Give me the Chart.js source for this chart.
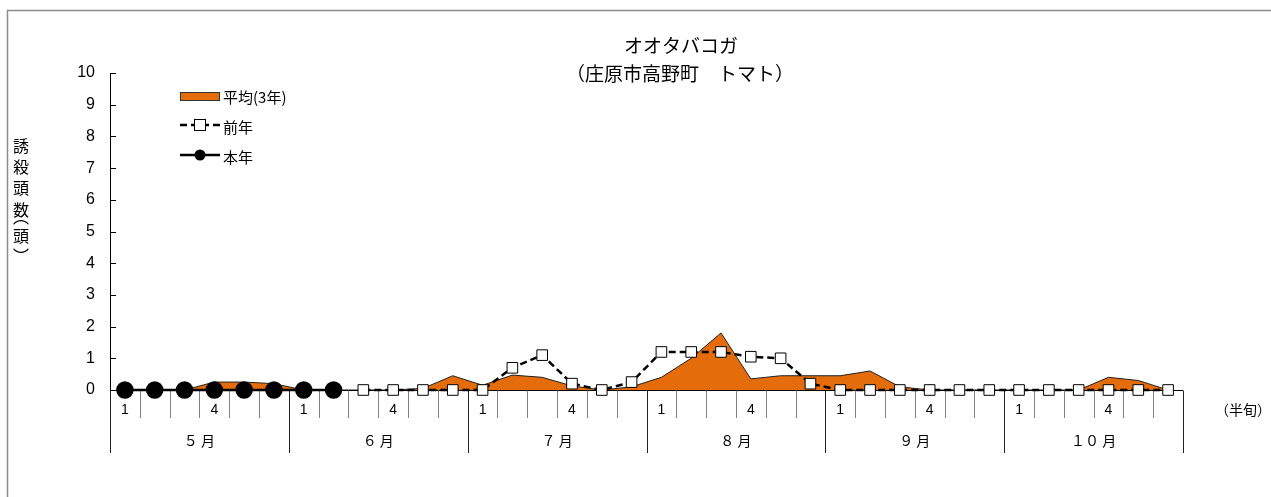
<!DOCTYPE html>
<html lang="ja">
<head>
<meta charset="utf-8">
<title>オオタバコガ</title>
<script src="https://cdn.jsdelivr.net/npm/chart.js@4/dist/chart.umd.min.js"></script>
<style>
  html, body { margin: 0; padding: 0; background: #fff; }
  #wrap { position: relative; width: 1271px; height: 497px; }
</style>
</head>
<body>
<div id="wrap"><canvas id="trapChart"></canvas></div>
<script>
// 月と半旬
const months = ['５月', '６月', '７月', '８月', '９月', '１０月'];
const halfLabels = ['1', '', '', '4', '', ''];
const categories = months.flatMap(m => halfLabels.map((h, i) => m + (i + 1)));

// 誘殺頭数（頭）
const avg3y = [0, 0, 0, 0.25, 0.25, 0.2,   0, 0, 0, 0, 0.05, 0.45,
               0.15, 0.47, 0.4, 0.13, 0, 0.1,   0.4, 1.0, 1.8, 0.35, 0.45, 0.45,
               0.45, 0.6, 0.1, 0, 0, 0,   0, 0, 0, 0.4, 0.3, 0];
const lastYear = [null, null, null, null, null, null,   null, null, 0, 0, 0, 0,
                  0, 0.7, 1.1, 0.2, 0, 0.25,   1.2, 1.2, 1.2, 1.05, 1.0, 0.2,
                  0, 0, 0, 0, 0, 0,   0, 0, 0, 0, 0, 0];
const thisYear = [0, 0, 0, 0, 0, 0,   0, 0, null, null, null, null,
                  null, null, null, null, null, null,   null, null, null, null, null, null,
                  null, null, null, null, null, null,   null, null, null, null, null, null];
const yTicks = [0, 1, 2, 3, 4, 5, 6, 7, 8, 9, 10];

const ORANGE = 'rgb(228, 108, 10)';
const JP = '"Noto Sans CJK JP", "Noto Sans", sans-serif';
const NUM = '"Liberation Sans", Arial, sans-serif';

// 軸・凡例・タイトルを描く
const decor = {
    id: 'decor',
    beforeDatasetsDraw(chart) {
        const { ctx, chartArea: a, scales: { x, y } } = chart;
        const w = (a.right - a.left) / categories.length;
        ctx.save();
        // y軸の内向き目盛
        ctx.strokeStyle = '#000';
        ctx.lineWidth = 1;
        yTicks.forEach(v => {
            const py = Math.round(y.getPixelForValue(v)) + 0.5;
            ctx.beginPath(); ctx.moveTo(a.left, py); ctx.lineTo(a.left + 6, py); ctx.stroke();
        });
        // x軸線
        const y0 = Math.round(y.getPixelForValue(0)) + 0.5;
        ctx.beginPath(); ctx.moveTo(a.left, y0); ctx.lineTo(a.right, y0); ctx.stroke();
        // 半旬・月の区切り
        for (let k = 0; k <= categories.length; k++) {
            const px = Math.round(a.left + k * w) + 0.5;
            const isMonth = k % 6 === 0;
            ctx.strokeStyle = isMonth ? '#222' : '#808080';
            ctx.beginPath();
            ctx.moveTo(px, y0);
            ctx.lineTo(px, isMonth ? 453 : 418);
            ctx.stroke();
        }
        ctx.restore();
    },
    afterDraw(chart) {
        const { ctx, chartArea: a, scales: { x } } = chart;
        const w = (a.right - a.left) / categories.length;
        ctx.save();
        ctx.fillStyle = '#000';
        ctx.textAlign = 'center';
        ctx.textBaseline = 'middle';
        // 半旬ラベル
        ctx.font = '14px ' + NUM;
        categories.forEach((c, i) => {
            const t = halfLabels[i % 6];
            if (t) ctx.fillText(t, x.getPixelForValue(i), 410);
        });
        // 月ラベル
        ctx.font = '14px ' + JP;
        months.forEach((m, j) => {
            ctx.fillText(m.split('').join(' ').replace('１ ０', '１０'), a.left + (j * 6 + 3) * w, 441);
        });
        ctx.fillText('（半旬）', 1243, 410);

        // タイトル
        ctx.font = '19px ' + JP;
        ctx.fillText('オオタバコガ', 681, 46);
        ctx.fillText('（庄原市高野町　トマト）', 680, 74);

        // 縦書きの軸タイトル（文字のインク中心を合わせる）
        ctx.font = '16px ' + JP;
        ctx.textBaseline = 'alphabetic';
        const vt = ['誘', '殺', '頭', '数', '︵', '頭', '︶'];
        const vy = [146, 167, 188, 210, 222, 236, 250];
        vt.forEach((ch, i) => {
            const m = ctx.measureText(ch);
            const off = (m.actualBoundingBoxAscent - m.actualBoundingBoxDescent) / 2;
            ctx.fillText(ch, 21, vy[i] + off);
        });
        ctx.textBaseline = 'middle';

        // 凡例
        ctx.textAlign = 'left';
        ctx.font = '15px ' + JP;
        ctx.fillStyle = ORANGE;
        ctx.strokeStyle = '#333';
        ctx.lineWidth = 1;
        ctx.fillRect(180.5, 92.5, 39, 8);
        ctx.strokeRect(180.5, 92.5, 39, 8);
        ctx.fillStyle = '#000';
        ctx.fillText('平均(3年)', 223, 97);

        ctx.strokeStyle = '#000';
        ctx.lineWidth = 2.5;
        ctx.setLineDash([7, 4]);
        ctx.beginPath(); ctx.moveTo(180, 125); ctx.lineTo(220, 125); ctx.stroke();
        ctx.setLineDash([]);
        ctx.fillStyle = '#fff';
        ctx.lineWidth = 1;
        ctx.fillRect(194.5, 119.5, 11, 11);
        ctx.strokeRect(194.5, 119.5, 11, 11);
        ctx.fillStyle = '#000';
        ctx.fillText('前年', 223, 127);

        ctx.lineWidth = 2.5;
        ctx.beginPath(); ctx.moveTo(180, 155); ctx.lineTo(220, 155); ctx.stroke();
        ctx.beginPath(); ctx.arc(200, 155, 5.5, 0, Math.PI * 2); ctx.fill();
        ctx.fillText('本年', 223, 157);

        // 外枠
        ctx.strokeStyle = '#8c8c8c';
        ctx.lineWidth = 1.5;
        ctx.beginPath();
        ctx.moveTo(7.5, 497); ctx.lineTo(7.5, 10.5); ctx.lineTo(1271, 10.5);
        ctx.stroke();
        ctx.restore();
    }
};

new Chart(document.getElementById('trapChart'), {
    type: 'line',
    data: {
        labels: categories,
        datasets: [
            {
                label: '本年',
                data: thisYear,
                order: 0,
                borderColor: '#000',
                borderWidth: 2.5,
                pointStyle: 'circle',
                pointRadius: 7.5,
                pointBackgroundColor: '#000',
                pointBorderColor: '#000',
                tension: 0,
                clip: false
            },
            {
                label: '前年',
                data: lastYear,
                order: 1,
                borderColor: '#000',
                borderWidth: 2.5,
                borderDash: [7, 4],
                pointStyle: 'rect',
                pointRadius: 7.5,
                pointBorderWidth: 1,
                pointBackgroundColor: '#fff',
                pointBorderColor: '#000',
                tension: 0,
                clip: false
            },
            {
                label: '平均(3年)',
                data: avg3y,
                order: 2,
                fill: 'origin',
                backgroundColor: ORANGE,
                borderColor: '#222',
                borderWidth: 1,
                pointRadius: 0,
                tension: 0
            }
        ]
    },
    options: {
        responsive: true,
        maintainAspectRatio: false,
        animation: false,
        events: [],
        layout: { padding: { left: 0, top: 73, right: 88, bottom: 107 } },
        plugins: { legend: { display: false }, title: { display: false }, tooltip: { enabled: false } },
        scales: {
            x: { type: 'category', offset: true, display: false },
            y: {
                min: 0, max: 10,
                afterFit: s => { s.width = 110; },
                afterBuildTicks: s => { s.ticks = yTicks.map(v => ({ value: v })); },
                grid: { display: false, drawTicks: false },
                border: { display: true, color: '#000', width: 1 },
                ticks: { padding: 15, color: '#000', font: { family: NUM, size: 16 } }
            }
        }
    },
    plugins: [decor]
});
</script>
</body>
</html>
